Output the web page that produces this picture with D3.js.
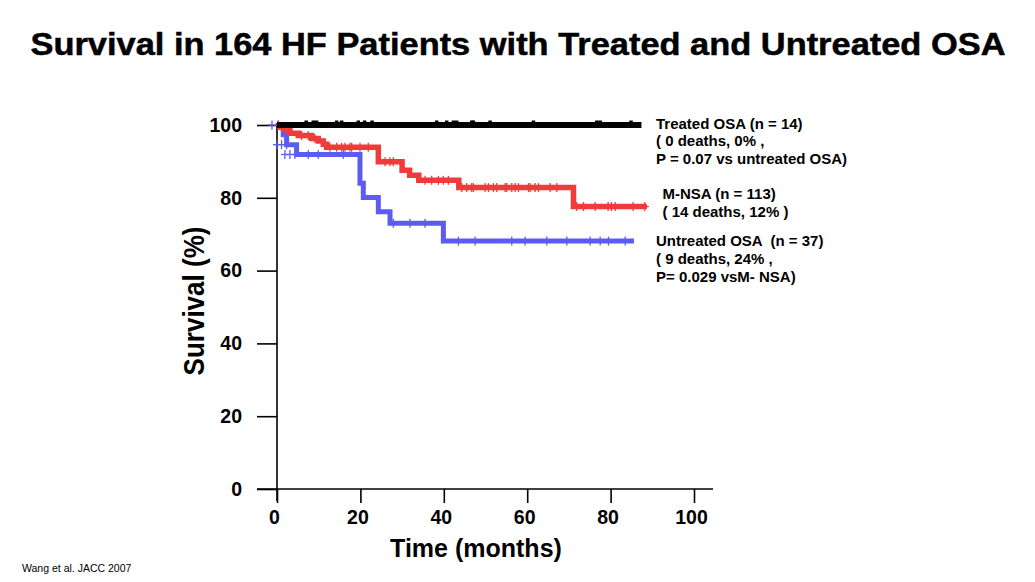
<!DOCTYPE html>
<html>
<head>
<meta charset="utf-8">
<script src="https://cdn.jsdelivr.net/npm/d3@7/dist/d3.min.js"></script>
<style>
  html, body { margin: 0; padding: 0; background: #fff; }
  svg { display: block; font-family: "Liberation Sans", Arial, sans-serif; }
  text { white-space: pre; }
</style>
</head>
<body>
<svg id="chart" width="1035" height="582"></svg>
<script>
// ---- Data ----
const xTicks = [0, 20, 40, 60, 80, 100];
const yTicks = [0, 20, 40, 60, 80, 100];

// Kaplan-Meier step curves: times (months) where the survival changes, survival (%) after the change
const treatedTimes = [0];
const treatedSurv  = [100];
const treatedEnd   = 87.4;

const mnsaTimes = [0, 1.1, 1.9, 3.1, 5.1, 8.3, 9.9, 11.1, 11.9, 24.3, 30.0, 31.8, 34.0, 43.6, 71.1];
const mnsaSurv  = [100, 99.3, 98.6, 97.7, 97.1, 96.3, 95.6, 94.7, 93.9, 89.9, 87.6, 86.2, 84.8, 82.8, 77.6];
const mnsaEnd   = 88.7;

const untreatedTimes = [0, 1.5, 2.3, 4.7, 19.9, 20.7, 24.3, 27.1, 39.9];
const untreatedSurv  = [100, 97.3, 94.6, 91.9, 84.0, 80.1, 76.2, 73.0, 68.1];
const untreatedEnd   = 85.6;

// Censoring marks (months)
const treatedCensor = [7, 8.7, 9.5, 14.3, 15.5, 19.5, 21.0, 22.8, 38.3, 40.7, 42.3, 43.1, 46.7, 47.1, 51.1, 61.5, 76.7, 77.5, 84.9];
const mnsaCensor = [0.3, 5.9, 7.5, 9.1, 12.7, 14.3, 15.5, 16.3, 17.5, 17.9, 19.9, 21.9, 25.9, 27.1, 27.9,
  35.5, 37.1, 38.7, 39.9, 41.1, 44.3, 45.5, 46.7, 47.1, 49.9, 50.7, 51.9, 52.7, 54.7, 55.1, 56.3, 57.1, 57.9,
  60.3, 60.7, 61.9, 62.7, 65.5, 67.1, 71.9, 73.5, 76.3, 79.4, 80.2, 81.1, 85.4, 88.2];
const untreatedCensorT = [-1.2, 0.3, 0, 1.1, 2.3, 1.9, 3.1, 4.3, 7.5, 9.9, 15.9, 27.9, 31.9, 35.5,
  43.5, 47.5, 56.3, 59.5, 64.7, 69.5, 75.1, 77.5, 79.5, 83.5];
const untreatedCensorS = [100, 100, 94.6, 94.6, 94.6, 91.9, 91.9, 91.9, 91.9, 91.9, 91.9, 73.0, 73.0, 73.0,
  68.1, 68.1, 68.1, 68.1, 68.1, 68.1, 68.1, 68.1, 68.1, 68.1];

const titleText = "Survival in 164 HF Patients with Treated and Untreated OSA";
const legendTreated = ["Treated OSA (n = 14)", "( 0 deaths, 0% ,", "P = 0.07 vs untreated OSA)"];
const legendMnsa = ["M-NSA (n = 113)", "( 14 deaths, 12% )"];
const legendUntreated = ["Untreated OSA  (n = 37)", "( 9 deaths, 24% ,", "P= 0.029 vsM- NSA)"];
const sourceText = "Wang et al. JACC 2007";

// ---- Layout ----
const svg = d3.select("#chart");
const x = d3.scaleLinear().domain([0, 100]).range([277, 694]);
const y = d3.scaleLinear().domain([0, 100]).range([489, 125]);

const RED = "#ef3b3b";
const BLUE = "#5c5cf2";
const BLACK = "#000";

// Title
svg.append("text")
  .attr("x", 518).attr("y", 55)
  .attr("text-anchor", "middle")
  .attr("font-size", 31).attr("font-weight", "bold")
  .attr("stroke", "#000").attr("stroke-width", 0.5)
  .attr("textLength", 975).attr("lengthAdjust", "spacingAndGlyphs")
  .text(titleText);

// X axis
const xAxis = d3.axisBottom(x).tickValues(xTicks).tickSize(14).tickSizeOuter(0).tickPadding(7);
const gx = svg.append("g").attr("transform", `translate(0,${y(0)})`).call(xAxis);
gx.select(".domain").remove();
gx.append("line").attr("x1", 257).attr("x2", 713).attr("y1", 0).attr("y2", 0)
  .attr("stroke", "#000").attr("stroke-width", 1.6);
gx.selectAll(".tick line").attr("stroke-width", 1.6);
gx.selectAll(".tick text").attr("font-size", 19.5).attr("font-weight", "bold")
  .attr("font-family", "Liberation Sans, Arial, sans-serif").attr("fill", "#000").attr("dx", -3);

// Y axis
const yAxis = d3.axisLeft(y).tickValues(yTicks).tickSize(20).tickSizeOuter(0).tickPadding(15);
const gy = svg.append("g").attr("transform", `translate(${x(0)},0)`).call(yAxis);
gy.select(".domain").remove();
gy.append("line").attr("x1", 0).attr("x2", 0).attr("y1", y(100) - 2).attr("y2", y(0) + 12)
  .attr("stroke", "#000").attr("stroke-width", 1.6);
gy.selectAll(".tick line").attr("stroke-width", 1.6);
gy.selectAll(".tick text").attr("font-size", 19.5).attr("font-weight", "bold")
  .attr("font-family", "Liberation Sans, Arial, sans-serif").attr("fill", "#000");

// Axis titles
svg.append("text").attr("x", 476).attr("y", 557).attr("text-anchor", "middle")
  .attr("font-size", 25).attr("font-weight", "bold").text("Time (months)");
svg.append("text").attr("transform", "translate(204,301) scale(1.1,1) rotate(-90)").attr("text-anchor", "middle")
  .attr("font-size", 26).attr("font-weight", "bold").text("Survival (%)");

// Curves
function stepPoints(times, surv, end) {
  const pts = times.map((t, i) => [t, surv[i]]);
  pts.push([end, surv[surv.length - 1]]);
  return pts;
}
const line = d3.line().x(d => x(d[0])).y(d => y(d[1])).curve(d3.curveStepAfter);

function survAt(times, surv, t) {
  const i = d3.bisectRight(times, t) - 1;
  return surv[Math.max(0, i)];
}

function drawMarks(pts, color, w, h) {
  const g = svg.append("g").attr("stroke", color).attr("stroke-width", w);
  g.selectAll("line.v").data(pts).join("line").attr("class", "v")
    .attr("x1", d => x(d[0])).attr("x2", d => x(d[0]))
    .attr("y1", d => y(d[1]) - h / 2).attr("y2", d => y(d[1]) + h / 2);
  g.selectAll("line.h").data(pts).join("line").attr("class", "h")
    .attr("x1", d => x(d[0]) - 4).attr("x2", d => x(d[0]) + 4)
    .attr("y1", d => y(d[1])).attr("y2", d => y(d[1]));
}

// Untreated OSA (blue)
svg.append("path").datum(stepPoints(untreatedTimes, untreatedSurv, untreatedEnd))
  .attr("d", line).attr("fill", "none").attr("stroke", BLUE).attr("stroke-width", 5);
drawMarks(untreatedCensorT.map((t, i) => [t, untreatedCensorS[i]]), BLUE, 1.3, 9);

// M-NSA (red)
svg.append("path").datum(stepPoints(mnsaTimes, mnsaSurv, mnsaEnd))
  .attr("d", line).attr("fill", "none").attr("stroke", RED).attr("stroke-width", 5.5);
drawMarks(mnsaCensor.map(t => [t, survAt(mnsaTimes, mnsaSurv, t)]), RED, 1.3, 9);

// Treated OSA (black)
svg.append("path").datum(stepPoints(treatedTimes, treatedSurv, treatedEnd))
  .attr("d", line).attr("fill", "none").attr("stroke", BLACK).attr("stroke-width", 6);
const gb = svg.append("g").attr("stroke", BLACK).attr("stroke-width", 3.5);
gb.selectAll("line").data(treatedCensor).join("line")
  .attr("x1", d => x(d)).attr("x2", d => x(d))
  .attr("y1", d => y(survAt(treatedTimes, treatedSurv, d)) - 4.5)
  .attr("y2", d => y(survAt(treatedTimes, treatedSurv, d)) + 3);

// Legend texts
function block(lines, x0, y0, dy) {
  const t = svg.append("text").attr("font-size", 15).attr("font-weight", "bold");
  lines.forEach((s, i) => {
    t.append("tspan").attr("x", x0).attr("y", y0 + i * dy).text(s);
  });
}
block(legendTreated, 656, 128.5, 17.8);
block(legendMnsa, 662.5, 198.5, 18.5);
block(legendUntreated, 656, 245.5, 18.3);

// Source
svg.append("text").attr("x", 22).attr("y", 572).attr("font-size", 10.5).text(sourceText);
</script>
</body>
</html>
